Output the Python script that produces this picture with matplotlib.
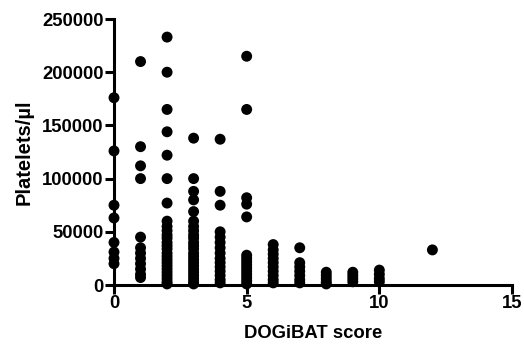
import matplotlib
matplotlib.use("Agg")
import matplotlib.pyplot as plt
import numpy as np

plt.rcParams['font.family'] = ['Liberation Sans', 'DejaVu Sans']

col0 = [176000, 126000, 75000, 63000, 40000, 31000, 25000, 20000]
col1 = [210000, 130000, 112000, 100000, 45000, 35000, 30000, 25000, 20000, 15000, 10000, 7000]
col2 = [233000, 200000, 165000, 144000, 122000, 100000, 77000, 60000, 55000, 51000, 47000, 44000,
        40000, 37000, 34000, 30000, 27000, 24000, 21000, 18000, 15000, 12000, 9000, 6000, 3000, 1000]
col3 = [138000, 100000, 88000, 80000, 69000, 60000, 55000, 51000, 47000, 44000, 40000, 37000,
        34000, 30000, 27000, 24000, 21000, 18000, 15000, 12000, 9000, 6000, 3000, 1000]
col4 = [137000, 88000, 75000, 50000, 45000, 40000, 35000, 30000, 25000, 21000, 17000, 13000, 9000, 5000, 2000]
col5 = [215000, 165000, 82000, 76000, 64000, 28000, 25000, 22000, 19000, 16000, 13000, 10000, 7000, 4000, 1000]
col6 = [38000, 33000, 29000, 25000, 21000, 17000, 13000, 9000, 5000, 2000]
col7 = [35000, 21000, 17000, 13000, 9000, 5000, 2000]
col8 = [12000, 9000, 6000, 3000, 1000]
col9 = [12000, 9000, 6000, 3000]
col10 = [14000, 10000, 6000, 3000]
col12 = [33000]

scores = [0, 1, 2, 3, 4, 5, 6, 7, 8, 9, 10, 12]
columns = [col0, col1, col2, col3, col4, col5, col6, col7, col8, col9, col10, col12]

x_ticks = [0, 5, 10, 15]
y_ticks = [0, 50000, 100000, 150000, 200000, 250000]

fig = plt.figure(figsize=(5.24, 3.51), dpi=100)
ax = fig.add_axes([114/524, (351-285)/351, (512-114)/524, (285-19)/351])

for s, vals in zip(scores, columns):
    ax.scatter([s]*len(vals), vals, s=62, color='black', edgecolors='none', clip_on=False, zorder=3)

ax.set_xlim(0, 15)
ax.set_ylim(0, 250000)
ax.set_xticks(x_ticks)
ax.set_yticks(y_ticks)
ax.set_xticklabels([str(t) for t in x_ticks], fontsize=13.3, fontweight='bold')
ax.set_yticklabels([str(t) for t in y_ticks], fontsize=13.3, fontweight='bold')
for sp in ['top', 'right']:
    ax.spines[sp].set_visible(False)
for sp in ['left', 'bottom']:
    ax.spines[sp].set_linewidth(2.2)
ax.tick_params(axis='both', direction='out', length=6.5, width=2.2, pad=1)
ax.set_xlabel('DOGiBAT score', fontsize=13.3, fontweight='bold', labelpad=9)
ax.set_ylabel('Platelets/\u00b5l', fontsize=14.5, fontweight='bold', labelpad=6)

fig.savefig('out.png', dpi=100)
